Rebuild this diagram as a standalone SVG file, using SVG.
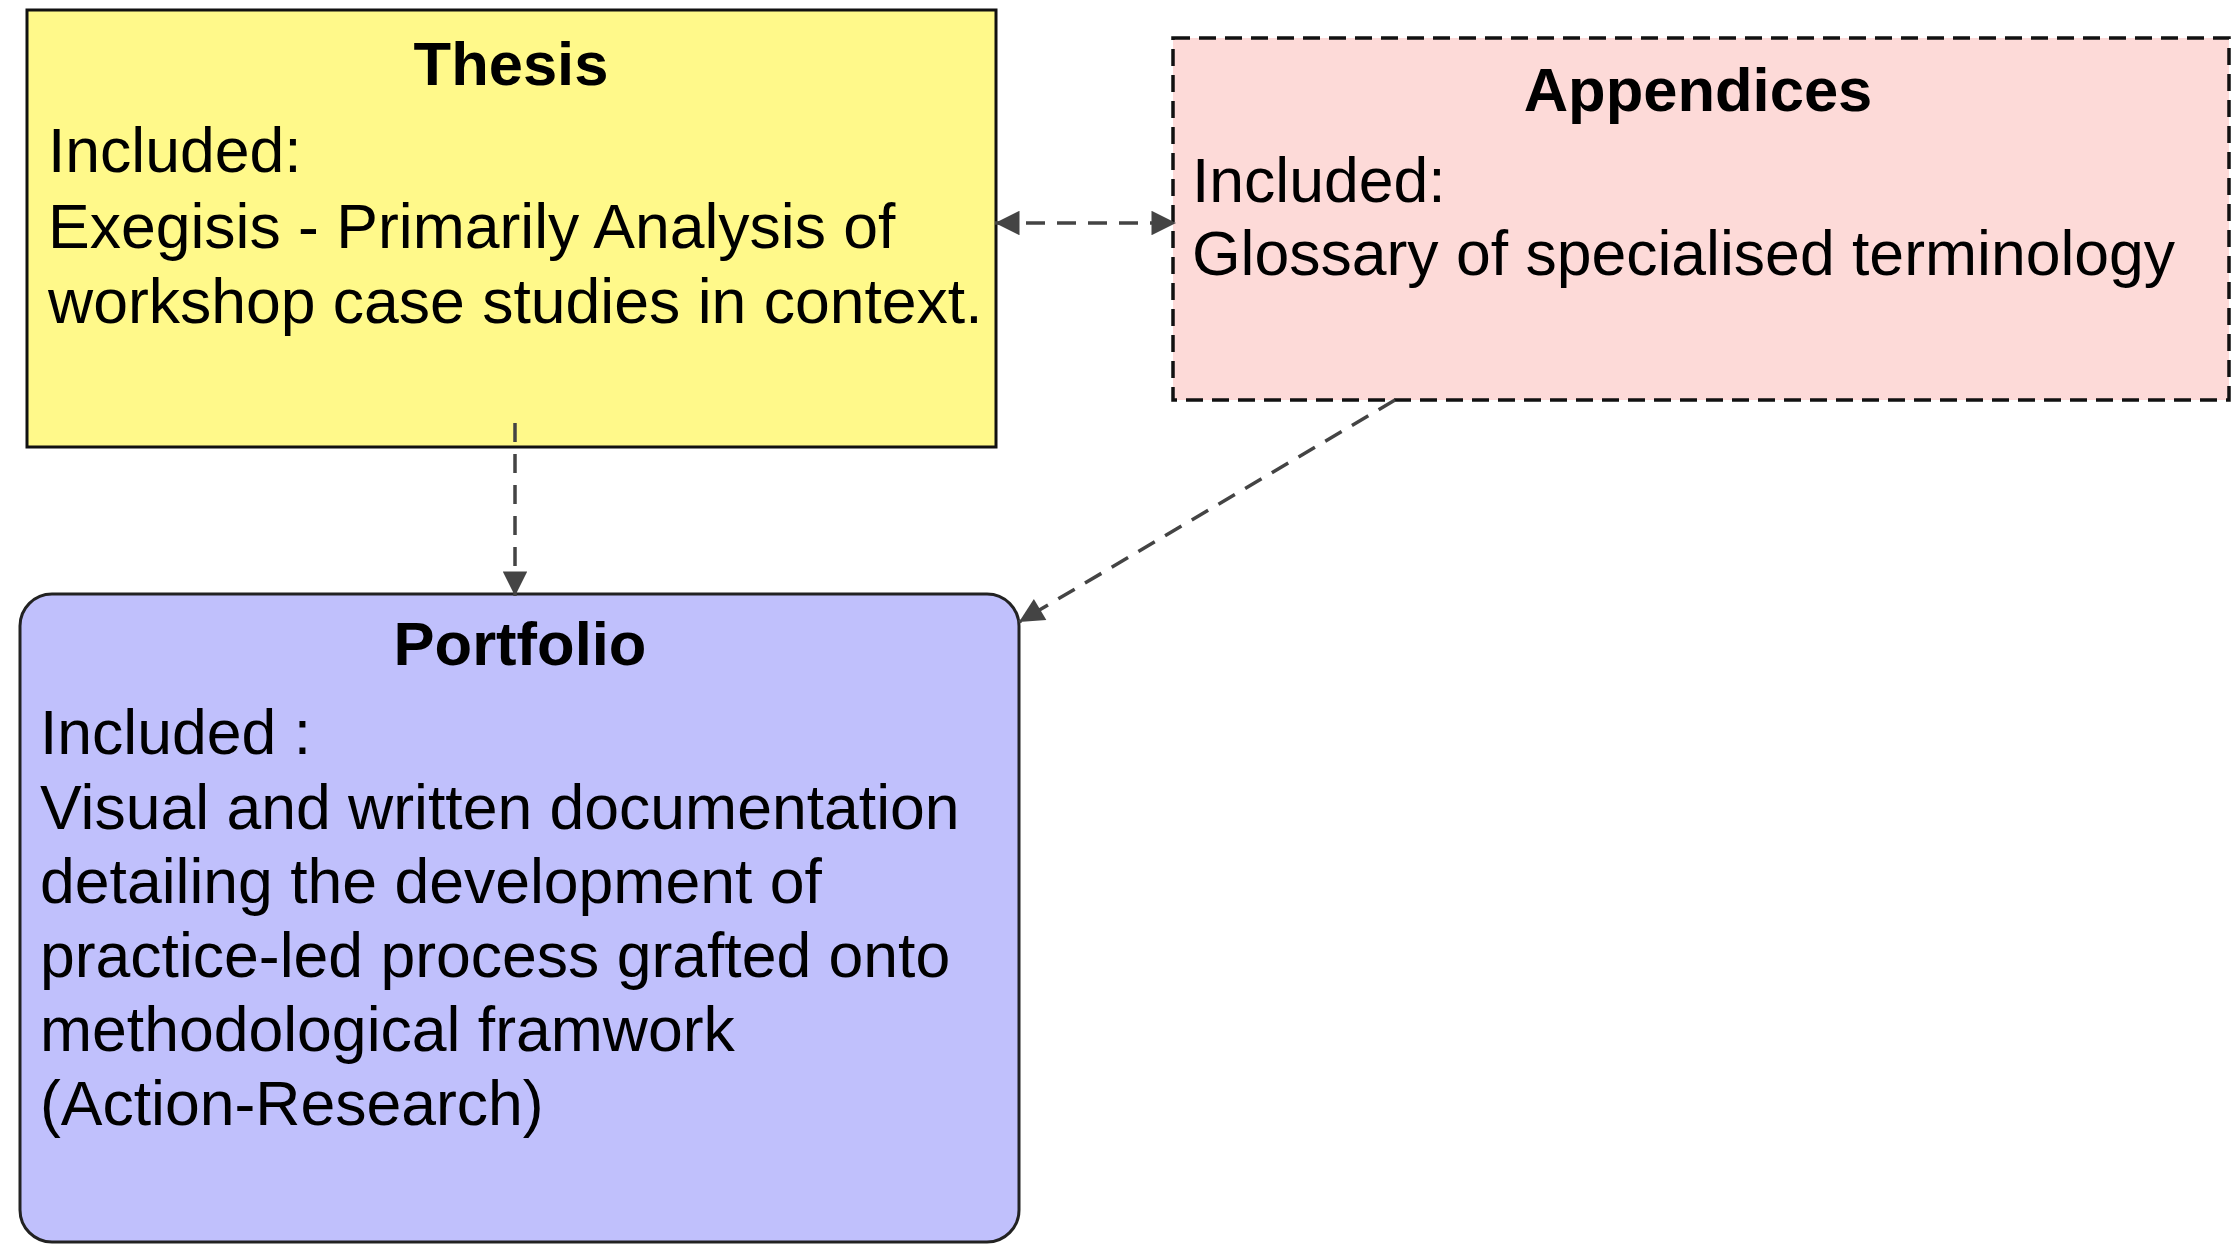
<svg xmlns="http://www.w3.org/2000/svg" width="2232" height="1246" viewBox="0 0 2232 1246">
<style>
.t{font-family:"Liberation Sans",Arial,sans-serif;font-size:62.5px;fill:#000}
.b{font-weight:bold;text-anchor:middle;font-size:61.5px}
.c{fill:none;stroke:#444;stroke-width:3.5;stroke-dasharray:19 12}
</style>
<defs>
<marker id="ah" viewBox="0 0 10 10" refX="10" refY="5" markerWidth="9" markerHeight="7" markerUnits="strokeWidth" orient="auto-start-reverse">
<path d="M0,0 L10,5 L0,10 Z" fill="#444"/>
</marker>
</defs>
<rect width="2232" height="1246" fill="#fff"/>
<g id="thesis">
<rect x="27" y="10" width="969" height="437" fill="#FFF98A" stroke="#111" stroke-width="3"/>
<text class="t b" x="511" y="85">Thesis</text>
<text class="t" x="48" y="172">Included:</text>
<text class="t" x="48" y="248">Exegisis - Primarily Analysis of</text>
<text class="t" x="48" y="323">workshop case studies in context.</text>
</g>
<g id="appendices">
<rect x="1173" y="38" width="1056" height="362" fill="#FDDAD8" stroke="#111" stroke-width="3.5" stroke-dasharray="17 9"/>
<text class="t b" x="1698" y="111">Appendices</text>
<text class="t" x="1192" y="202">Included:</text>
<text class="t" x="1192" y="275">Glossary of specialised terminology</text>
</g>
<g id="portfolio">
<rect x="20" y="594" width="999" height="648" rx="32" ry="32" fill="#C0C0FC" stroke="#222" stroke-width="3"/>
<text class="t b" x="520" y="665">Portfolio</text>
<text class="t" x="40" y="754">Included :</text>
<text class="t" x="40" y="829">Visual and written documentation</text>
<text class="t" x="40" y="903">detailing the development of</text>
<text class="t" x="40" y="977">practice-led process grafted onto</text>
<text class="t" x="40" y="1051">methodological framwork</text>
<text class="t" x="40" y="1125">(Action-Research)</text>
</g>
<g id="connectors">
<line class="c" x1="995" y1="223" x2="1176" y2="223" marker-start="url(#ah)" marker-end="url(#ah)"/>
<line class="c" x1="515" y1="423" x2="515" y2="596" marker-end="url(#ah)"/>
<line class="c" x1="1395" y1="400" x2="1019" y2="622" marker-end="url(#ah)"/>
</g>
</svg>
